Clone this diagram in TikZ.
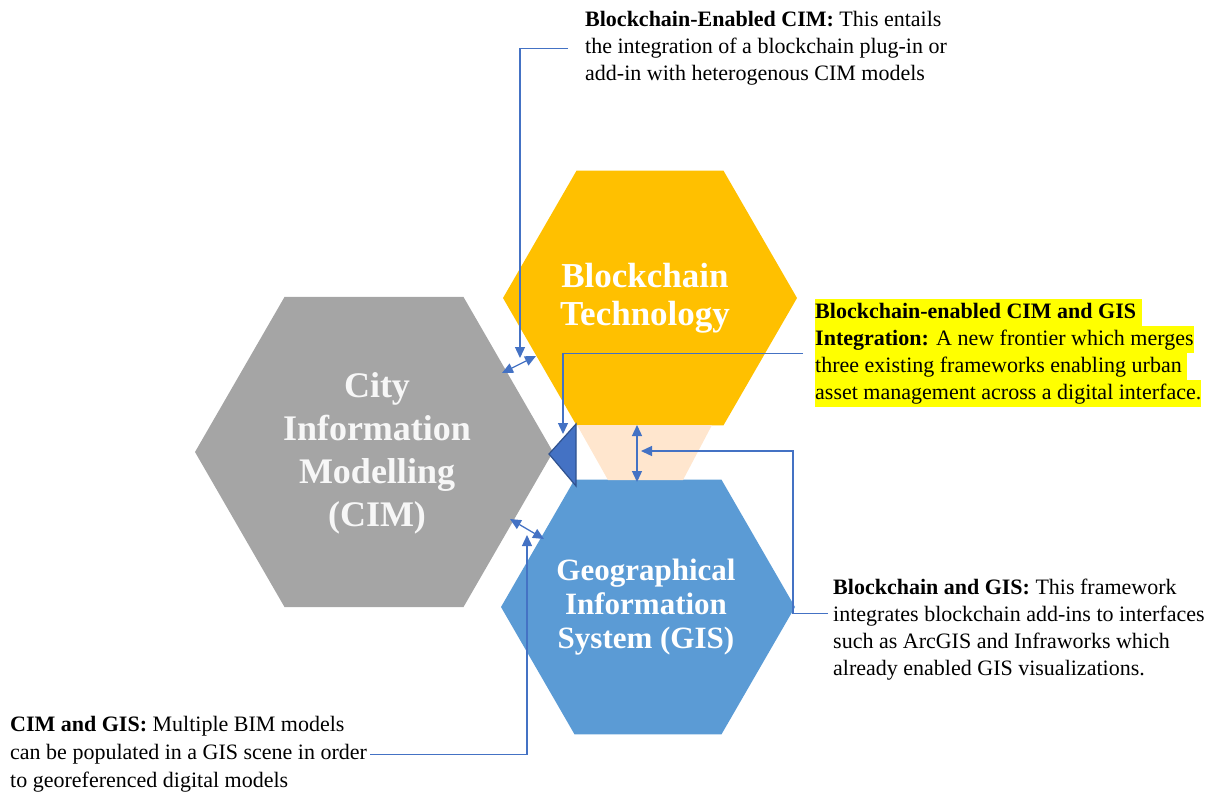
\documentclass[tikz,border=0pt]{standalone}
\usepackage{fontspec}
\setmainfont{Liberation Serif}
\usetikzlibrary{arrows.meta,positioning,calc,shapes.geometric}
\definecolor{cimgray}{HTML}{A5A5A5}
\definecolor{bcgold}{HTML}{FFC000}
\definecolor{gisblue}{HTML}{5B9BD5}
\definecolor{linkblue}{HTML}{4472C4}
\definecolor{linkdark}{HTML}{2F528F}
\definecolor{peach}{HTML}{FFE6CE}
\definecolor{marker}{HTML}{FFFF00}
% one highlighted row of a callout
\newcommand{\hlrow}[1]{{\setlength{\fboxsep}{0pt}\colorbox{marker}{\strut #1}}}

\begin{document}
\begin{tikzpicture}[x=1pt,y=-1pt,
    hexa/.style={regular polygon,regular polygon sides=6,inner sep=0pt,draw=none},
    hexlabel/.style={align=center,inner sep=0pt,text=white},
    note/.style={align=left,inner sep=0pt,anchor=north west,
      font=\fontsize{22}{27}\selectfont},
    link/.style={draw=linkblue,line width=1.3pt,-{Triangle[length=11pt,width=10pt]}},
    both/.style={link,{Triangle[length=11pt,width=10pt]}-{Triangle[length=11pt,width=10pt]}}]
  \useasboundingbox (0,0) rectangle (1222,796);

  % the three frameworks
  \node[hexa,fill=cimgray,minimum size=358pt] (cim) at (374,452) {};
  \node[hexa,fill=bcgold,minimum size=294pt] (bc) at (650,298) {};
  \node[hexa,fill=gisblue,minimum size=294pt] (gis) at (648,607) {};

  % overlap zone between blockchain and GIS
  \fill[peach] (577,425) -- (712,425) -- (683,480) -- (608,480) -- cycle;
  \draw[fill=linkblue,draw=linkdark,line width=1.2pt]
    (576,424) -- (576,486) -- (549,454) -- cycle;

  \node[hexlabel,font=\bfseries\fontsize{36}{43}\selectfont,text=white!94!gray]
    at (377,453) {City\\Information\\Modelling\\(CIM)};
  \node[hexlabel,font=\bfseries\fontsize{35}{38}\selectfont]
    at (645,298) {Blockchain\\Technology};
  \node[hexlabel,font=\bfseries\fontsize{31}{34}\selectfont]
    at (646,607) {Geographical\\Information\\System (GIS)};

  % callouts
  \node[note] (bccim) at (585,11)
    {\textbf{Blockchain-Enabled CIM:} This entails\\
     the integration of a blockchain plug-in or\\
     add-in with heterogenous CIM models};
  \node[note] (bcgis) at (815,299)
    {\hlrow{\textbf{Blockchain-enabled CIM and GIS }}\\
     \hlrow{\textbf{Integration:} A new frontier which merges}\\
     \hlrow{three existing frameworks enabling urban }\\
     \hlrow{asset management across a digital interface.}};
  \node[note] (gisbc) at (833,579)
    {\textbf{Blockchain and GIS:} This framework\\
     integrates blockchain add-ins to interfaces\\
     such as ArcGIS and Infraworks which\\
     already enabled GIS visualizations.};
  \node[note,font=\fontsize{22}{28}\selectfont] (cimgis) at (10,716)
    {\textbf{CIM and GIS:} Multiple BIM models\\
     can be populated in a GIS scene in order\\
     to georeferenced digital models};

  % connector ends
  \coordinate (tip1) at (520,358);
  \coordinate (tip2) at (563,434);
  \coordinate (tip3) at (641,451);
  \coordinate (tip4) at (527,535);
  \coordinate (gap1a) at (502,373);
  \coordinate (gap1b) at (536,356);
  \coordinate (gap2a) at (510,519);
  \coordinate (gap2b) at (544,539);
  \coordinate (mid1) at (637,425);
  \coordinate (mid2) at (637,482);
  \coordinate (bend3) at (793,451);

  \draw[link] ([xshift=-17pt]bccim.west) -| (tip1);
  \draw[link] ([xshift=-12pt]bcgis.west) -| (tip2);
  \draw[link] ([xshift=-5pt,yshift=16pt]gisbc.west) -| (bend3) -- (tip3);
  \draw[link] ([xshift=3pt]cimgis.east) -| (tip4);
  \draw[both] (gap1a) -- (gap1b);
  \draw[both] (gap2a) -- (gap2b);
  \draw[both] (mid1) -- (mid2);
\end{tikzpicture}
\end{document}
